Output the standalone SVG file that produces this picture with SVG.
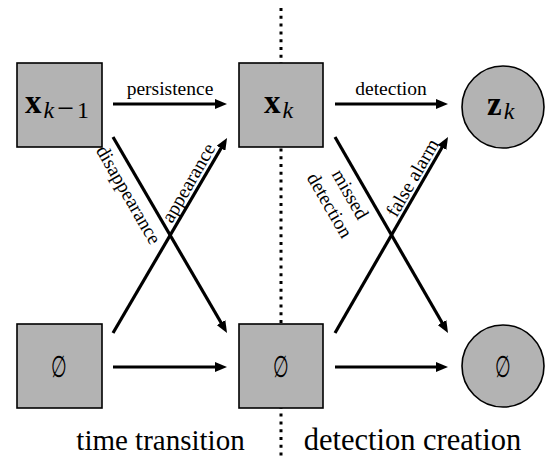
<svg xmlns="http://www.w3.org/2000/svg" width="547" height="456" viewBox="0 0 547 456">
<style>
.node{fill:#b3b3b3;stroke:#000;stroke-width:1.6}
.edge{stroke:#000;stroke-width:3.2;fill:none;marker-end:url(#ah)}
.lbl{font-size:19.5px;fill:#000}
.cap{font-size:29px;fill:#000}
.cap2{font-size:30.5px;fill:#000}
.m{font-size:33px;fill:#000}
.es{font-size:30px;fill:#000}
</style>
<defs>
<marker id="ah" viewBox="0 0 12 10" refX="2" refY="5" markerWidth="12" markerHeight="10" markerUnits="userSpaceOnUse" orient="auto">
<path d="M0,0 L12,5 L0,10 z" fill="#000"/>
</marker>
</defs>
<line x1="281" y1="8" x2="281" y2="456" stroke="#000" stroke-width="3" stroke-dasharray="3 4.8"/>
<g id="connectors" font-family="Liberation Serif, DejaVu Serif, serif">
<line class="edge" x1="113" y1="104" x2="217" y2="104"/>
<line class="edge" x1="335" y1="104" x2="438" y2="104"/>
<line class="edge" x1="113" y1="367" x2="217" y2="367"/>
<line class="edge" x1="335" y1="367" x2="438" y2="367"/>
<line class="edge" x1="113" y1="137" x2="222" y2="324.3"/>
<line class="edge" x1="113" y1="333" x2="222" y2="146.6"/>
<line class="edge" x1="335" y1="137" x2="443" y2="324.3"/>
<line class="edge" x1="335" y1="333" x2="443" y2="145.7"/>
<text class="lbl" x="170" y="95" text-anchor="middle">persistence</text>
<text class="lbl" x="391" y="95" text-anchor="middle">detection</text>
<text class="lbl" text-anchor="middle" transform="translate(123,198) rotate(60)">disappearance</text>
<text class="lbl" text-anchor="middle" transform="translate(194,186) rotate(-60)">appearance</text>
<text class="lbl" text-anchor="middle" transform="translate(344.7,197.5) rotate(60)">missed</text>
<text class="lbl" text-anchor="middle" transform="translate(324.2,208.5) rotate(60)">detection</text>
<text class="lbl" text-anchor="middle" transform="translate(418,181) rotate(-60)">false alarm</text>
</g>
<g id="x_km1" font-family="Liberation Serif, DejaVu Serif, serif">
<rect class="node" x="17" y="63" width="85" height="84"/>
<text class="m" x="25" y="113"><tspan font-weight="bold">x</tspan><tspan font-style="italic" font-size="24" dy="5" dx="2">k</tspan><tspan font-size="30" dx="3">−</tspan><tspan font-size="24" dx="3">1</tspan></text>
</g>
<g id="x_k" font-family="Liberation Serif, DejaVu Serif, serif">
<rect class="node" x="239" y="63" width="84" height="84"/>
<text class="m" x="264" y="113"><tspan font-weight="bold">x</tspan><tspan font-style="italic" font-size="24" dy="5" dx="2">k</tspan></text>
</g>
<g id="z_k" font-family="Liberation Serif, DejaVu Serif, serif">
<circle class="node" cx="503" cy="107" r="41"/>
<text class="m" x="487" y="115"><tspan font-weight="bold">z</tspan><tspan font-style="italic" font-size="24" dy="4" dx="2">k</tspan></text>
</g>
<g id="empty_prev" font-family="DejaVu Serif, serif">
<rect class="node" x="17" y="324" width="85" height="84"/>
<text class="es" text-anchor="middle" transform="translate(59.5,377) scale(0.6,1)">∅</text>
</g>
<g id="empty_mid" font-family="DejaVu Serif, serif">
<rect class="node" x="239" y="324" width="84" height="84"/>
<text class="es" text-anchor="middle" transform="translate(281,377) scale(0.6,1)">∅</text>
</g>
<g id="empty_det" font-family="DejaVu Serif, serif">
<circle class="node" cx="503" cy="366" r="41"/>
<text class="es" text-anchor="middle" transform="translate(503,377) scale(0.6,1)">∅</text>
</g>
<g id="captions" font-family="Liberation Serif, DejaVu Serif, serif">
<text class="cap" x="160.5" y="450" text-anchor="middle">time transition</text>
<text class="cap2" x="412.5" y="450" text-anchor="middle">detection creation</text>
</g>
</svg>
